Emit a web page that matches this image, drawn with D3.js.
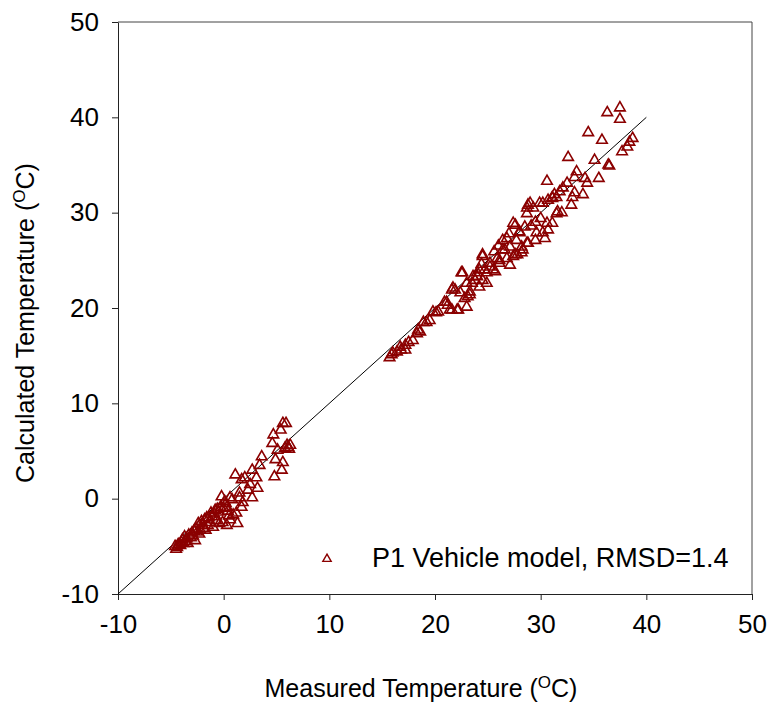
<!DOCTYPE html>
<html>
<head>
<meta charset="utf-8">
<script src="https://cdn.jsdelivr.net/npm/d3@7"></script>
<style>
  body { margin: 0; background: #fff; }
  text { font-family: "Liberation Sans", Arial, sans-serif; }
</style>
</head>
<body>
<div id="chart"></div>
<script>
// Measured vs calculated temperature (deg C)
var measured = [
  -4.6,-4.4,-4.3,-4.1,-4.0,-3.9,-3.8,-3.7,-3.5,-3.4,-3.3,-3.1,-3.0,-2.9,-2.7,-2.6,-2.5,-2.4,-2.3,-2.2,
  -2.0,-1.9,-1.8,-1.7,-1.5,-1.4,-1.3,-1.1,-1.0,-0.9,-0.8,-0.7,-0.5,-0.4,-0.3,-0.2,-0.1,0.0,0.2,0.3,
  0.3,0.5,0.6,0.6,0.8,0.9,1.1,1.2,1.3,1.5,1.5,1.7,1.7,1.8,2.0,2.3,2.5,2.7,2.7,3.1,
  3.2,3.4,3.6,4.6,4.7,4.8,4.9,5.1,5.4,5.5,5.6,5.6,5.8,5.9,6.0,6.1,6.2,6.3,-4.5,-3.6,
  -2.8,-2.1,-1.6,-1.2,-0.6,0.1,0.4,
  15.7,15.9,16.0,16.4,16.7,16.8,17.2,17.2,17.5,17.9,18.3,18.4,18.6,18.9,19.2,19.5,19.8,20.1,20.3,20.9,
  21.1,21.2,21.4,21.6,21.6,21.7,21.9,22.1,22.2,22.4,22.5,22.6,22.8,23.0,23.0,23.1,23.3,23.3,23.5,23.6,
  24.0,24.0,24.2,24.2,24.5,24.5,24.5,24.7,24.9,24.9,25.2,25.2,25.5,25.7,25.9,26.1,26.1,26.4,26.4,26.6,
  26.8,26.8,27.1,27.1,27.4,27.4,27.6,27.6,27.7,27.8,28.0,28.0,28.2,28.2,28.3,28.5,28.7,28.7,28.7,28.8,
  28.8,29.0,29.3,29.5,29.5,29.6,29.9,30.2,30.2,30.4,30.6,30.6,30.7,30.7,31.1,31.1,31.1,31.3,31.5,31.5,
  31.6,31.8,32.0,32.1,32.5,32.6,32.9,33.0,33.2,33.2,33.4,34.0,34.2,34.4,34.5,35.1,35.5,35.8,36.3,36.4,
  36.5,37.5,37.5,37.7,38.2,38.4,38.7,
  26.0,27.0,25.6,29.1,30.0,23.8,24.4
];
var calculated = [
  -5.0,-5.1,-4.8,-4.9,-4.6,-4.3,-4.7,-4.0,-4.2,-4.7,-3.8,-4.1,-3.6,-3.9,-4.4,-3.2,-3.5,-2.6,-3.7,-3.3,
  -2.8,-3.1,-2.2,-3.3,-2.8,-2.0,-2.5,-1.9,-3.0,-1.6,-1.2,-2.3,-1.4,-2.6,-0.9,0.2,-2.5,-1.0,-0.5,-2.8,
  -0.9,-1.8,0.1,-2.2,-0.1,-1.7,2.5,-1.5,-2.6,0.6,0.1,2.0,-0.9,-0.4,2.2,0.9,1.5,3.0,0.1,2.2,
  1.1,3.5,4.4,5.8,6.7,2.3,4.1,5.1,7.2,3.0,7.9,3.8,5.3,7.9,5.6,5.4,5.2,5.6,-5.3,-4.5,
  -3.4,-2.4,-2.0,-1.5,-1.1,-0.3,-1.3,
  14.8,15.1,15.3,15.4,15.9,15.6,16.1,15.6,16.4,16.6,17.3,17.7,17.5,18.5,18.5,18.7,19.6,19.5,19.6,20.6,
  20.6,20.3,19.8,19.8,21.9,22.1,21.9,19.8,19.8,21.6,23.7,23.7,21.0,20.1,22.6,21.2,21.7,21.4,22.6,23.3,
  23.7,23.3,22.2,24.0,22.9,25.4,25.6,24.0,22.6,23.7,24.3,24.7,24.0,23.8,25.2,25.0,24.7,26.1,27.1,26.1,
  27.3,25.2,26.4,24.5,25.4,28.9,28.7,25.6,27.1,25.6,27.9,28.0,26.4,25.8,26.1,28.5,26.8,29.9,30.5,30.8,
  26.8,31.0,30.5,29.0,27.1,27.9,31.0,31.0,27.9,27.3,28.9,33.3,31.3,28.2,31.6,28.9,31.5,31.9,31.6,29.9,
  30.1,32.2,30.0,32.6,33.1,35.8,30.8,31.6,32.1,33.7,34.3,31.9,33.6,33.1,38.4,35.5,33.6,37.6,40.5,35.0,
  34.9,41.0,39.8,36.4,36.9,37.4,37.8,
  26.5,27.8,25.9,28.6,29.4,22.9,24.6
];
var xTicks = [-10, 0, 10, 20, 30, 40, 50];
var yTicks = [-10, 0, 10, 20, 30, 40, 50];
var oneToOne = [-10, 40];
var legendLabel = "P1 Vehicle model, RMSD=1.4";

var W = 771, H = 704;
var red = "#8b0000";

var svg = d3.select("#chart").append("svg")
    .attr("width", W)
    .attr("height", H);

var x = d3.scaleLinear().domain([-10, 50]).range([118, 752]);
var y = d3.scaleLinear().domain([-10, 50]).range([594, 22]);

// frame (top + right)
svg.append("path")
    .attr("d", "M" + x(-10) + "," + y(50) + "H" + x(50) + "V" + y(-10))
    .attr("fill", "none")
    .attr("stroke", "#444")
    .attr("stroke-width", 1);

// axes, plain hyphen for negatives like the original
var fmt = function(d) { return String(d); };
var xAxis = svg.append("g")
    .attr("transform", "translate(0," + y(-10) + ")")
    .call(d3.axisBottom(x).tickValues(xTicks).tickFormat(fmt).tickSize(6).tickSizeOuter(0).tickPadding(15));
var yAxis = svg.append("g")
    .attr("transform", "translate(" + x(-10) + ",0)")
    .call(d3.axisLeft(y).tickValues(yTicks).tickFormat(fmt).tickSize(6).tickSizeOuter(0).tickPadding(13));

[xAxis, yAxis].forEach(function(g) {
    g.select(".domain").attr("stroke", "#222");
    g.selectAll(".tick line").attr("stroke", "#222");
    g.selectAll("text")
        .attr("fill", "#000")
        .style("font-size", "26px")
        .style("font-family", "'Liberation Sans', Arial, sans-serif");
});

// 1:1 line
svg.append("line")
    .attr("x1", x(oneToOne[0])).attr("y1", y(oneToOne[0]))
    .attr("x2", x(oneToOne[1])).attr("y2", y(oneToOne[1]))
    .attr("stroke", "#000")
    .attr("stroke-width", 1);

// points
var tri = d3.symbol().type(d3.symbolTriangle).size(48);
svg.append("g")
    .selectAll("path")
    .data(d3.range(measured.length))
    .enter()
    .append("path")
    .attr("d", tri)
    .attr("transform", function(i) { return "translate(" + x(measured[i]) + "," + y(calculated[i]) + ")"; })
    .attr("fill", "none")
    .attr("stroke", red)
    .attr("stroke-width", 1.6);

// legend
svg.append("path")
    .attr("d", d3.symbol().type(d3.symbolTriangle).size(30))
    .attr("transform", "translate(327,559)")
    .attr("fill", "none")
    .attr("stroke", red)
    .attr("stroke-width", 1.4);
svg.append("text")
    .attr("x", 372)
    .attr("y", 567)
    .style("font-size", "27px")
    .text(legendLabel);

// axis titles
var xt = svg.append("text")
    .attr("x", 421)
    .attr("y", 697)
    .attr("text-anchor", "middle")
    .style("font-size", "25px");
xt.append("tspan").text("Measured Temperature (");
xt.append("tspan").attr("dy", -9).style("font-size", "17px").text("O");
xt.append("tspan").attr("dy", 9).text("C)");

var yt = svg.append("text")
    .attr("transform", "translate(34,323) rotate(-90)")
    .attr("text-anchor", "middle")
    .style("font-size", "25px");
yt.append("tspan").text("Calculated Temperature (");
yt.append("tspan").attr("dy", -9).style("font-size", "17px").text("O");
yt.append("tspan").attr("dy", 9).text("C)");
</script>
</body>
</html>
